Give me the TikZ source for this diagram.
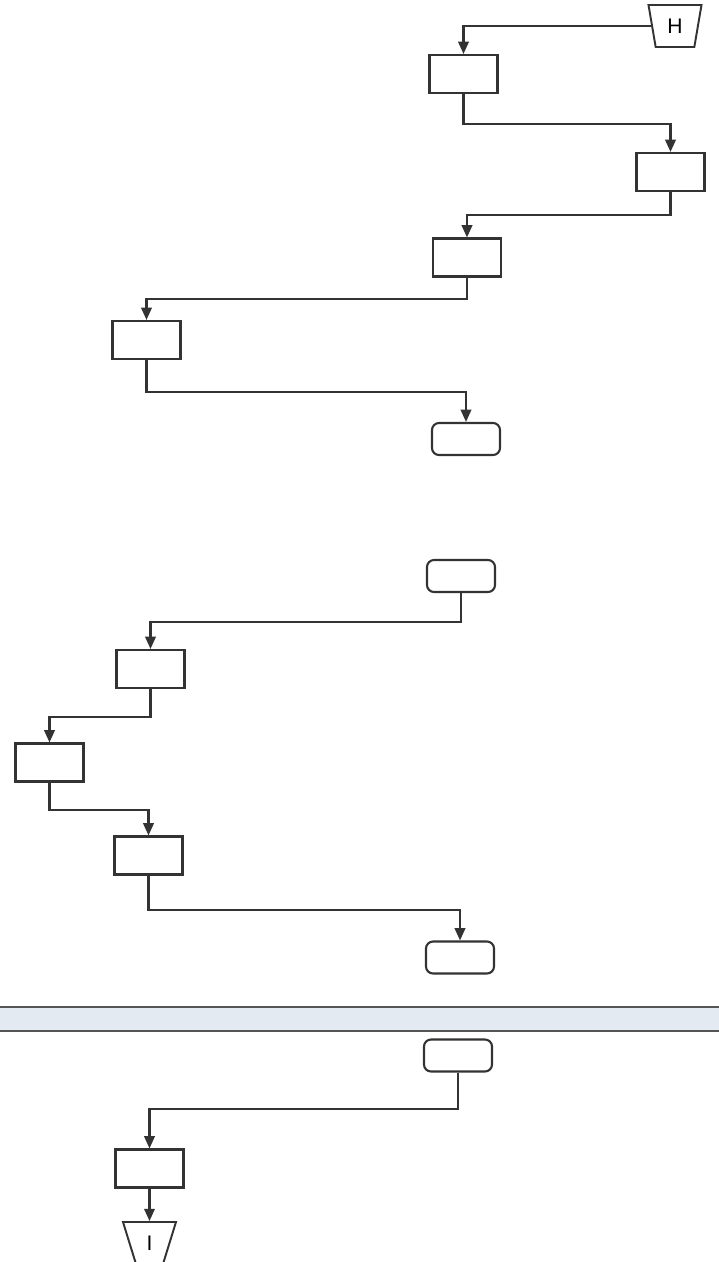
\documentclass[tikz,border=0pt]{standalone}
\usepackage{fontspec}
\setmainfont{Liberation Sans}
\usetikzlibrary{shapes.geometric,arrows.meta}
\definecolor{flowLine}{HTML}{333333}
\definecolor{bandFill}{HTML}{E3EAF1}
\definecolor{bandLine}{HTML}{555555}
\tikzset{
  stepbox/.style={draw=flowLine,line width=1.2pt,minimum width=1.36cm,minimum height=0.76cm,inner sep=0pt},
  termbox/.style={stepbox,rounded corners=4pt,minimum height=0.64cm},
  connector/.style={draw=flowLine,line width=1.1pt,trapezium,shape border rotate=180,trapezium stretches=true,
    trapezium angle=79,minimum width=1.06cm,minimum height=0.84cm,inner sep=0pt,font=\large},
  flow/.style={draw=flowLine,line width=1.2pt,-{Triangle[length=7pt,width=6pt]}},
}

\begin{document}
\begin{tikzpicture}[x=0.02cm,y=-0.02cm]
  \useasboundingbox (0,0) rectangle (719,1262);
  % page separator
  \fill[bandFill] (0,1007) rectangle (719,1031);
  \draw[bandLine,line width=1.2pt] (0,1007) -- (719,1007);
  \draw[bandLine,line width=1.2pt] (0,1031) -- (719,1031);
  % upper part
  \node[connector] (h) at (675,26) {H};
  \node[stepbox] (b1) at (463.5,74) {};
  \node[stepbox] (b2) at (670.5,172) {};
  \node[stepbox] (b3) at (467,257.5) {};
  \node[stepbox] (b4) at (146.5,340) {};
  \node[termbox] (e1) at (466,439) {};
  \draw[flow] (h.west) -| (b1.north);
  \draw[flow] (b1.south) -- +(0,30) -| (b2.north);
  \draw[flow] (b2.south) -- +(0,23) -| (b3.north);
  \draw[flow] (b3.south) -- +(0,21) -| (b4.north);
  \draw[flow] (b4.south) -- +(0,32) -| (e1.north);
  % middle part
  \node[termbox] (s2) at (461,576) {};
  \node[stepbox] (b5) at (150.5,669) {};
  \node[stepbox] (b6) at (49.5,762.5) {};
  \node[stepbox] (b7) at (148.5,855.5) {};
  \node[termbox] (e2) at (460,957.5) {};
  \draw[flow] (s2.south) -- +(0,29) -| (b5.north);
  \draw[flow] (b5.south) -- +(0,28) -| (b6.north);
  \draw[flow] (b6.south) -- +(0,27) -| (b7.north);
  \draw[flow] (b7.south) -- +(0,34) -| (e2.north);
  % lower part
  \node[termbox] (s3) at (458,1055.5) {};
  \node[stepbox] (b8) at (149.5,1168.5) {};
  \node[connector] (i) at (149.5,1243) {I};
  \draw[flow] (s3.south) -- +(0,36) -| (b8.north);
  \draw[flow] (b8.south) -- (i.north);
\end{tikzpicture}
\end{document}
